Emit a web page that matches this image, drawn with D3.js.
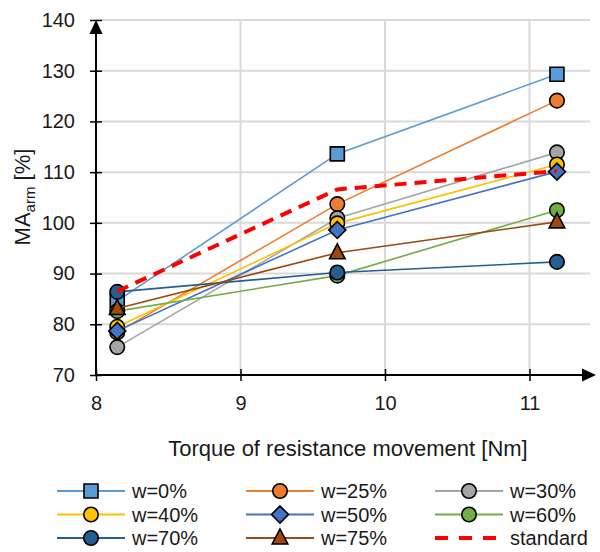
<!DOCTYPE html>
<html>
<head>
<meta charset="utf-8">
<script src="https://cdn.jsdelivr.net/npm/d3@7"></script>
<style>
  body { margin: 0; background: #fff; }
  svg text { font-family: "Liberation Sans", Arial, sans-serif; fill: #1a1a1a; }
</style>
</head>
<body>
<svg id="chart" width="600" height="552"></svg>
<script>
// torque values (x) where the measurements were taken
var torque = [8.147, 9.67, 11.19];

var seriesNames = ["w=0%", "w=25%", "w=30%", "w=40%", "w=50%", "w=60%", "w=70%", "w=75%", "standard"];
var w0  = [84.6, 113.6, 129.3];
var w25 = [78.4, 103.7, 124.1];
var w30 = [75.5, 100.9, 113.9];
var w40 = [79.5, 99.9, 111.5];
var w50 = [78.7, 98.6, 110.1];
var w60 = [82.6, 89.6, 102.5];
var w70 = [86.4, 90.2, 92.3];
var w75 = [83.1, 94.1, 100.2];
var standard = [86.5, 106.6, 110.2];

var xTicks = [8, 9, 10, 11];
var yTicks = [70, 80, 90, 100, 110, 120, 130, 140];

var colors  = ["#5b9bd5", "#ed7d31", "#a5a5a5", "#ffc000", "#4472c4", "#70ad47", "#255e91", "#9e480e", "#ff0000"];
var symbols = ["square", "circle", "circle", "circle", "diamond", "circle", "circle", "triangle", null];
var values  = [w0, w25, w30, w40, w50, w60, w70, w75, standard];

var svg = d3.select("#chart");

var x = d3.scaleLinear().domain([8, 11]).range([96, 529.5]);
var y = d3.scaleLinear().domain([70, 140]).range([375, 20]);
var xRight = 596;

// grid
svg.append("g").selectAll("line.hg")
    .data(yTicks.slice(1)).enter()
    .append("line")
    .attr("x1", x(8)).attr("x2", xRight - 6)
    .attr("y1", function (d) { return y(d); })
    .attr("y2", function (d) { return y(d); })
    .attr("stroke", "#d9d9d9").attr("stroke-width", 2);
svg.append("g").selectAll("line.vg")
    .data(xTicks.slice(1)).enter()
    .append("line")
    .attr("x1", function (d) { return x(d); })
    .attr("x2", function (d) { return x(d); })
    .attr("y1", y(140)).attr("y2", y(70))
    .attr("stroke", "#d9d9d9").attr("stroke-width", 2);

// axes
var xAxis = svg.append("g")
    .attr("transform", "translate(0," + y(70) + ")")
    .call(d3.axisBottom(x).tickValues(xTicks).tickSize(6).tickPadding(15).tickFormat(d3.format("d")));
xAxis.select(".domain").remove();
xAxis.selectAll(".tick line").attr("y1", -6).attr("stroke", "#000").attr("stroke-width", 1.5);
xAxis.selectAll("text").style("font-size", "20px");

var yAxis = svg.append("g")
    .attr("transform", "translate(" + x(8) + ",0)")
    .call(d3.axisLeft(y).tickValues(yTicks).tickSize(6).tickPadding(15));
yAxis.select(".domain").remove();
yAxis.selectAll(".tick line").attr("x1", 6).attr("stroke", "#000").attr("stroke-width", 1.5);
yAxis.selectAll("text").style("font-size", "20px");

// axis lines with arrow heads
svg.append("line")
    .attr("x1", x(8)).attr("x2", xRight - 10)
    .attr("y1", y(70)).attr("y2", y(70))
    .attr("stroke", "#000").attr("stroke-width", 2);
svg.append("path")
    .attr("d", "M" + xRight + "," + y(70) + "l-14,-6.5v13z")
    .attr("fill", "#000");
svg.append("line")
    .attr("x1", x(8)).attr("x2", x(8))
    .attr("y1", y(70)).attr("y2", y(140) + 10)
    .attr("stroke", "#000").attr("stroke-width", 2);
svg.append("path")
    .attr("d", "M" + x(8) + "," + y(140) + "l-6.5,14h13z")
    .attr("fill", "#000");

// axis titles
svg.append("text")
    .attr("x", 348).attr("y", 456)
    .attr("text-anchor", "middle")
    .style("font-size", "22px")
    .text("Torque of resistance movement [Nm]");

var yt = svg.append("text")
    .attr("transform", "translate(30,197) rotate(-90)")
    .attr("text-anchor", "middle")
    .style("font-size", "22px");
yt.append("tspan").text("MA");
yt.append("tspan").attr("dy", 5).style("font-size", "15px").text("arm");
yt.append("tspan").attr("dy", -5).text(" [%]");

// series
var line = d3.line()
    .x(function (d, i) { return x(torque[i]); })
    .y(function (d) { return y(d); });

function symbolPath(type) {
    if (type === "square") return d3.symbol(d3.symbolSquare, 196)();
    if (type === "diamond") return "M0,-8.5L8.5,0L0,8.5L-8.5,0Z";
    if (type === "triangle") return "M0,-9L7.8,6L-7.8,6Z";
    return d3.symbol(d3.symbolCircle, 165)();
}

values.forEach(function (vals, k) {
    var g = svg.append("g");
    var isStd = seriesNames[k] === "standard";
    g.append("path")
        .attr("d", line(vals))
        .attr("fill", "none")
        .attr("stroke", colors[k])
        .attr("stroke-width", isStd ? 4 : 1.6)
        .attr("stroke-dasharray", isStd ? "12,8" : null);
    if (symbols[k]) {
        g.selectAll("path.m")
            .data(vals).enter()
            .append("path")
            .attr("d", symbolPath(symbols[k]))
            .attr("transform", function (d, i) { return "translate(" + x(torque[i]) + "," + y(d) + ")"; })
            .attr("fill", colors[k])
            .attr("stroke", "#000").attr("stroke-width", 1.6);
    }
});

// legend, 3 columns
var legend = svg.append("g").selectAll("g")
    .data(seriesNames).enter()
    .append("g")
    .attr("transform", function (d, i) {
        return "translate(" + (57 + (i % 3) * 189) + "," + (491 + Math.floor(i / 3) * 23.5) + ")";
    });
legend.append("line")
    .attr("x1", 0).attr("x2", 68)
    .attr("stroke", function (d, i) { return colors[i]; })
    .attr("stroke-width", function (d) { return d === "standard" ? 4 : 2; })
    .attr("stroke-dasharray", function (d) { return d === "standard" ? "13,11" : null; });
legend.filter(function (d, i) { return symbols[i]; })
    .append("path")
    .attr("transform", "translate(34,0)")
    .attr("d", function (d, i) { return symbolPath(symbols[i]); })
    .attr("fill", function (d, i) { return colors[i]; })
    .attr("stroke", "#000").attr("stroke-width", 1.6);
legend.append("text")
    .attr("x", 75).attr("dy", "0.35em")
    .style("font-size", "20px")
    .text(function (d) { return d; });
</script>
</body>
</html>
